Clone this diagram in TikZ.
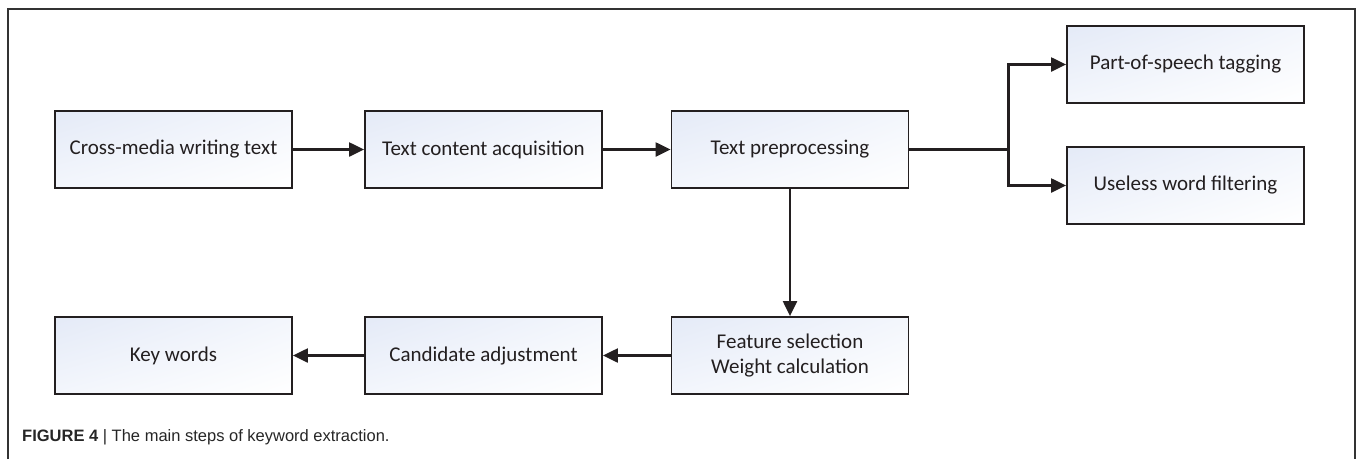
\documentclass[tikz,border=0pt]{standalone}
\usepackage{fontspec}
\setmainfont{Carlito}
\newfontfamily\capfont{Liberation Sans}
\usetikzlibrary{arrows.meta,shadings}

\definecolor{boxblue}{RGB}{228,234,247}
\definecolor{boxmid}{RGB}{243,246,252}
\definecolor{linegray}{RGB}{35,31,32}

\begin{document}
\begin{tikzpicture}[x=1pt,y=-1pt]
	\tikzset{stepbox/.style={draw=linegray, line width=1.8pt, minimum width=237pt, minimum height=77pt,
		inner sep=0pt, align=center, text=linegray, font=\fontsize{21}{25}\selectfont,
		upper left=boxblue, upper right=boxmid, lower left=boxmid, lower right=white}}
	\tikzset{arr/.style={draw=linegray, line width=2.2pt, -{Triangle[length=15pt,width=14pt]}}}
	\tikzset{frame/.style={draw=black!80, line width=1.2pt}}

	\useasboundingbox (0,0) rectangle (1360,459);
	\draw[frame] (8,459) |- (1355,9) -- (1355,459);

	% top row
	\node[stepbox] (cross) at (173.5,149.5) {Cross-media writing text};
	\node[stepbox] (acq) at (483.5,149.5) {Text content acquisition};
	\node[stepbox] (prep) at (790,149.5) {Text preprocessing};
	\node[stepbox] (pos) at (1185.5,64.5) {Part-of-speech tagging};
	\node[stepbox] (filter) at (1185.5,185.5) {Useless word filtering};

	% bottom row
	\node[stepbox] (feat) at (790,355.5) {Feature selection\\Weight calculation};
	\node[stepbox] (cand) at (483.5,355.5) {Candidate adjustment};
	\node[stepbox] (key) at (173.5,355.5) {Key words};

	\draw[arr] (cross) -- (acq);
	\draw[arr] (acq) -- (prep);
	\draw[draw=linegray, line width=2.2pt] (prep.east) -- ++(99,0) coordinate (fork);
	\draw[arr] (fork) |- (pos);
	\draw[arr] (fork) |- (filter);
	\draw[arr] (prep) -- (feat);
	\draw[arr] (feat) -- (cand);
	\draw[arr] (cand) -- (key);

	\node[anchor=west, inner sep=0pt, text=black!85] (cap) at (22,437)
		{\capfont\fontsize{16.5}{20}\selectfont\textbf{FIGURE 4} | The main steps of keyword extraction.};
\end{tikzpicture}
\end{document}
